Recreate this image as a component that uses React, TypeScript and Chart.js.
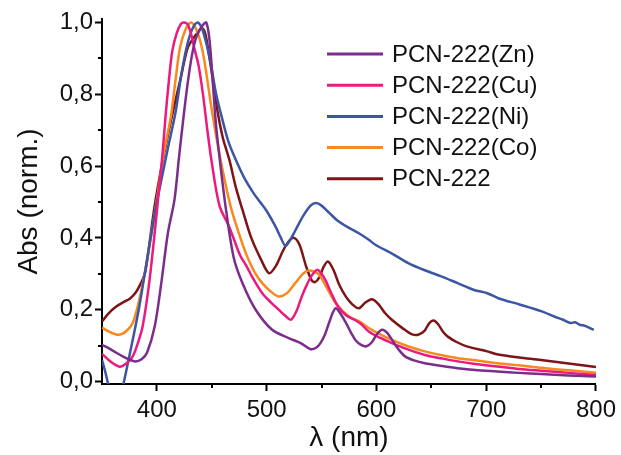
import React, { useEffect, useRef } from 'react';
import { Chart, registerables } from 'chart.js';

Chart.register(...registerables);

const seriesLabels = ['PCN-222(Zn)', 'PCN-222(Cu)', 'PCN-222(Ni)', 'PCN-222(Co)', 'PCN-222'];
const seriesColors = ['#7B2D8B', '#EC1A7E', '#3C55A5', '#F7891F', '#7D1517'];

const znWavelengths = [350, 356, 363, 372, 380, 386, 391, 398, 404, 410, 416, 420, 424, 428, 432, 436, 441, 445, 448, 451, 454, 458, 463, 470, 478, 490, 505, 520, 531, 540, 545, 549, 553, 557, 560, 563, 567, 572, 577, 581, 586, 591, 596, 600, 605, 610, 615, 620, 626, 635, 644, 660, 674, 690, 710, 730, 750, 775, 800];
const znValues = [0.102, 0.093, 0.08, 0.065, 0.056, 0.062, 0.08, 0.153, 0.274, 0.413, 0.506, 0.62, 0.73, 0.83, 0.91, 0.96, 0.99, 1.0, 0.95, 0.83, 0.71, 0.6, 0.478, 0.345, 0.274, 0.2, 0.144, 0.121, 0.107, 0.09, 0.094, 0.107, 0.13, 0.165, 0.19, 0.204, 0.19, 0.165, 0.135, 0.115, 0.102, 0.098, 0.11, 0.13, 0.144, 0.135, 0.112, 0.09, 0.07, 0.058, 0.051, 0.043, 0.037, 0.032, 0.028, 0.024, 0.021, 0.017, 0.014];

const cuWavelengths = [350, 358, 366, 372, 378, 383, 387, 393, 398, 401, 405, 408, 411, 414, 418, 422, 425, 428, 431, 434, 438, 442, 446, 450, 457, 466, 476, 481, 488, 496, 504, 511, 517, 522, 527, 532, 537, 541, 546, 550, 554, 559, 565, 572, 580, 586, 593, 603, 614, 628, 644, 660, 674, 690, 710, 730, 750, 775, 800];
const cuValues = [0.077, 0.055, 0.041, 0.05, 0.07, 0.11, 0.153, 0.275, 0.414, 0.506, 0.63, 0.743, 0.84, 0.92, 0.97, 0.997, 1.0, 0.995, 0.97, 0.93, 0.88, 0.8, 0.7, 0.61, 0.49, 0.43, 0.35, 0.325, 0.285, 0.246, 0.22, 0.2, 0.183, 0.172, 0.195, 0.237, 0.272, 0.295, 0.311, 0.3, 0.28, 0.245, 0.209, 0.185, 0.172, 0.16, 0.139, 0.122, 0.107, 0.09, 0.074, 0.064, 0.056, 0.049, 0.042, 0.035, 0.03, 0.024, 0.018];

const niWavelengths = [350, 353, 357, 363, 367, 370, 374, 378, 384, 390, 396, 400, 405, 410, 417, 422, 427, 432, 437, 441, 446, 450, 454, 458, 465, 473, 480, 488, 494, 500, 508, 513, 517, 521, 526, 533, 540, 545, 550, 557, 565, 575, 584, 593, 599, 615, 629, 644, 659, 674, 689, 701, 711, 731, 750, 762, 770, 777, 781, 785, 790, 798];
const niValues = [0.06, 0.027, -0.02, -0.05, -0.03, 0.0, 0.058, 0.116, 0.209, 0.32, 0.43, 0.5, 0.575, 0.65, 0.75, 0.85, 0.93, 0.98, 1.0, 0.985, 0.93, 0.87, 0.8, 0.75, 0.67, 0.61, 0.565, 0.525, 0.5, 0.475, 0.432, 0.4, 0.378, 0.392, 0.42, 0.46, 0.49, 0.497, 0.49, 0.47, 0.447, 0.428, 0.413, 0.395, 0.381, 0.355, 0.33, 0.31, 0.293, 0.274, 0.255, 0.246, 0.232, 0.214, 0.196, 0.181, 0.172, 0.163, 0.165, 0.158, 0.155, 0.144];

const coWavelengths = [350, 357, 365, 372, 378, 384, 390, 396, 400, 406, 413, 417, 421, 426, 431, 436, 441, 445, 450, 458, 467, 475, 482, 489, 496, 504, 511, 518, 526, 533, 538, 543, 548, 555, 563, 575, 584, 593, 603, 614, 628, 644, 660, 674, 690, 710, 730, 750, 775, 800];
const coValues = [0.15, 0.138, 0.13, 0.14, 0.163, 0.228, 0.32, 0.43, 0.506, 0.63, 0.743, 0.84, 0.929, 0.98, 1.0, 0.98, 0.93, 0.86, 0.757, 0.618, 0.49, 0.41, 0.35, 0.305, 0.274, 0.25, 0.237, 0.245, 0.274, 0.3, 0.309, 0.306, 0.297, 0.26, 0.218, 0.181, 0.168, 0.149, 0.132, 0.116, 0.099, 0.084, 0.073, 0.065, 0.059, 0.051, 0.045, 0.038, 0.031, 0.024];

const pcnWavelengths = [350, 356, 363, 370, 375, 380, 384, 389, 393, 398, 405, 414, 422, 428, 434, 438, 441, 444, 447, 451, 455, 460, 466, 472, 478, 486, 495, 502, 508, 515, 520, 525, 530, 536, 541, 544, 548, 552, 556, 561, 566, 572, 578, 584, 590, 596, 602, 608, 614, 624, 632, 638, 644, 648, 652, 656, 661, 665, 673, 683, 701, 711, 730, 750, 775, 800];
const pcnValues = [0.167, 0.19, 0.209, 0.222, 0.23, 0.245, 0.265, 0.3, 0.38, 0.49, 0.61, 0.743, 0.85, 0.929, 0.96, 0.975, 0.985, 0.97, 0.92, 0.84, 0.757, 0.68, 0.618, 0.54, 0.478, 0.4, 0.339, 0.302, 0.32, 0.365, 0.39, 0.4, 0.38, 0.32, 0.282, 0.277, 0.29, 0.32, 0.334, 0.31, 0.27, 0.237, 0.215, 0.204, 0.22, 0.229, 0.215, 0.19, 0.172, 0.148, 0.132, 0.13, 0.142, 0.162, 0.17, 0.16, 0.137, 0.125, 0.11, 0.097, 0.084, 0.075, 0.067, 0.06, 0.05, 0.04];

const seriesWavelengths = [znWavelengths, cuWavelengths, niWavelengths, coWavelengths, pcnWavelengths];
const seriesValues = [znValues, cuValues, niValues, coValues, pcnValues];

const xMinorTicks = [450, 550, 650, 750];
const yMinorTicks = [0.1, 0.3, 0.5, 0.7, 0.9];

const FONT = '"Liberation Sans", Arial, Helvetica, sans-serif';

const minorTickPlugin = {
  id: 'minorTicks',
  afterDraw(chart: any) {
    const { ctx, chartArea } = chart;
    const xs = chart.scales.x;
    const ys = chart.scales.y;
    ctx.save();
    ctx.strokeStyle = '#000';
    ctx.lineWidth = 2;
    ctx.beginPath();
    yMinorTicks.forEach((v) => {
      const py = Math.round(ys.getPixelForValue(v));
      ctx.moveTo(chartArea.left - 4, py);
      ctx.lineTo(chartArea.left, py);
    });
    xMinorTicks.forEach((v) => {
      const px = Math.round(xs.getPixelForValue(v));
      ctx.moveTo(px, chartArea.bottom);
      ctx.lineTo(px, chartArea.bottom + 4);
    });
    ctx.stroke();
    ctx.restore();
  },
};

const inlineLegendPlugin = {
  id: 'inlineLegend',
  afterDatasetsDraw(chart: any) {
    const { ctx } = chart;
    ctx.save();
    chart.data.datasets.forEach((ds: any, i: number) => {
      const y = 54 + i * 31.2;
      ctx.strokeStyle = ds.borderColor;
      ctx.lineWidth = 3;
      ctx.beginPath();
      ctx.moveTo(327, y);
      ctx.lineTo(383, y);
      ctx.stroke();
      ctx.fillStyle = '#111';
      ctx.font = `24px ${FONT}`;
      ctx.textAlign = 'left';
      ctx.textBaseline = 'middle';
      ctx.fillText(ds.label, 392, y + 1);
    });
    ctx.restore();
  },
};

export default function App() {
  const canvasRef = useRef<HTMLCanvasElement | null>(null);

  useEffect(() => {
    document.body.style.margin = '0';
    const canvas = canvasRef.current;
    if (!canvas) return;
    const datasets = seriesLabels.map((label, i) => ({
      label,
      data: seriesWavelengths[i].map((x, j) => ({ x, y: seriesValues[i][j] })),
      borderColor: seriesColors[i],
      backgroundColor: seriesColors[i],
      borderWidth: 2.5,
      pointRadius: 0,
      tension: 0.3,
      fill: false,
    }));
    const chart = new Chart(canvas, {
      type: 'line',
      data: { datasets },
      options: {
        responsive: false,
        animation: false,
        layout: { padding: { top: 19, right: 23, left: 0, bottom: 0 } },
        plugins: { legend: { display: false }, tooltip: { enabled: false } },
        scales: {
          x: {
            type: 'linear',
            min: 350,
            max: 800,
            afterFit: (s: any) => { s.height = 71; },
            ticks: {
              stepSize: 100,
              includeBounds: false,
              padding: 5,
              color: '#111',
              font: { family: FONT, size: 24 },
              maxRotation: 0,
              autoSkip: false,
              callback: (v: any) => String(v),
            },
            grid: { drawOnChartArea: false, drawTicks: true, tickLength: 7, tickWidth: 2, tickColor: '#000' },
            border: { display: true, color: '#000', width: 2 },
            title: {
              display: true,
              text: 'λ (nm)',
              color: '#111',
              font: { family: FONT, size: 28 },
              padding: { top: 0, bottom: 0 },
            },
          },
          y: {
            type: 'linear',
            min: -0.007,
            max: 1.01,
            afterFit: (s: any) => { s.width = 102; },
            ticks: {
              stepSize: 0.2,
              includeBounds: false,
              padding: 2,
              color: '#111',
              font: { family: FONT, size: 24 },
              autoSkip: false,
              callback: (v: any) => Number(v).toFixed(1).replace('.', ','),
            },
            grid: { drawOnChartArea: false, drawTicks: true, tickLength: 7, tickWidth: 2, tickColor: '#000' },
            border: { display: true, color: '#000', width: 2 },
            title: {
              display: true,
              text: 'Abs (norm.)',
              color: '#111',
              font: { family: FONT, size: 28 },
              padding: { top: 12, bottom: 0 },
            },
          },
        },
      },
      plugins: [minorTickPlugin, inlineLegendPlugin],
    });
    return () => chart.destroy();
  }, []);

  return (
    <div style={{ width: 621, height: 455 }}>
      <canvas ref={canvasRef} width={621} height={455} style={{ display: 'block' }} />
    </div>
  );
}
